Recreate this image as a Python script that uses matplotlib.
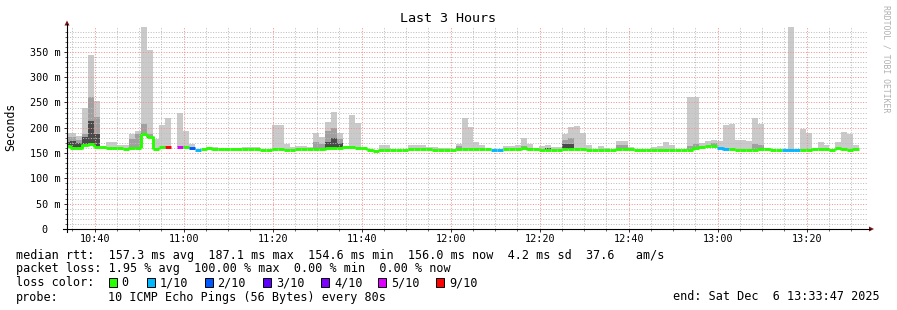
import numpy as np
import matplotlib
matplotlib.use("Agg")
import matplotlib.pyplot as plt
import matplotlib.dates as mdates
from matplotlib.ticker import MultipleLocator, FuncFormatter, NullFormatter
from matplotlib.patches import Polygon, Rectangle
from matplotlib.lines import Line2D
from datetime import datetime, timedelta

nan = np.nan

# ---------------- data (one entry per 80 s step) ----------------
start_time = datetime(2025, 12, 6, 10, 33, 47)
end_time = datetime(2025, 12, 6, 13, 33, 47)
step_seconds = 80

median_ms = [165, 161, 160, 166, 167, 163, 162, 161, 160, 160,
             159, 161, 161, 187, 182, 159, 162, 163, nan, 163,
             163, 160, 156, 158, 160, 158, 158, 159, 159, 158,
             158, 158, 158, 157, 157, 158, 158, 157, 157, 158,
             158, 158, 158, 158, 160, 161, 161, 163, 162, 161,
             160, 157, 155, 157, 157, 157, 157, 157, 158, 158,
             158, 158, 157, 157, 157, 157, 158, 158, 158, 158,
             158, 158, 157, 157, 158, 158, 158, 160, 158, 158,
             157, 157, 157, 157, 158, 158, 158, 158, 157, 157,
             157, 157, 157, 159, 159, 158, 157, 156, 156, 156,
             156, 157, 157, 157, 157, 157, 161, 163, 164, 164,
             161, 158, 158, 157, 157, 157, 157, 159, 159, 157,
             157, 157, 155.5, 157, 157, 157, 159, 159, 158, 157,
             160, 158, 157, 159, nan]

loss_count = [0, 0, 0, 0, 0, 0, 0, 0, 0, 0,
              0, 0, 0, 0, 0, 0, 0, 9, 10, 5,
              0, 2, 1, 0, 0, 0, 0, 0, 0, 0,
              0, 0, 0, 0, 0, 0, 0, 0, 0, 0,
              0, 0, 0, 0, 0, 0, 0, 0, 0, 0,
              0, 0, 0, 0, 0, 0, 0, 0, 0, 0,
              0, 0, 0, 0, 0, 0, 0, 0, 0, 0,
              0, 0, 1, 1, 0, 0, 0, 0, 0, 0,
              0, 0, 0, 0, 0, 0, 0, 0, 0, 0,
              0, 0, 0, 0, 0, 0, 0, 0, 0, 0,
              0, 0, 0, 0, 0, 0, 0, 0, 0, 0,
              1, 1, 0, 0, 0, 0, 0, 0, 0, 0,
              0, 1, 1, 1, 0, 0, 0, 0, 0, 0,
              0, 0, 0, 0, 10]

smoke_max_ms = [190, 190, 184, 240, 344, 252, nan, 172, 172, 166,
                166, 188, 194, 399, 354, 178, 205, 220, nan, 230,
                194, 168, nan, nan, 163, 163, nan, nan, nan, nan,
                163, 163, 163, nan, nan, 205, 205, 167, 163, 165,
                165, 163, 190, 182, 212, 232, 190, 165, 225, 210,
                nan, nan, nan, 166, 166, 158, nan, nan, 166, 166,
                166, 163, 163, 161, 161, nan, 168, 220, 202, 171,
                166, nan, nan, nan, 164, 164, 166, 180, 168, nan,
                164, 166, 163, 163, 188, 201, 203, 190, 166, nan,
                164, 161, nan, 174, 174, 163, nan, nan, 159, 163,
                165, 171, 166, nan, nan, 260, 261, 169, 174, 176,
                173, 206, 207, 176, 176, 174, 220, 207, 161, 158,
                nan, nan, 399, nan, 198, 190, nan, 171, 166, 158,
                171, 191, 188, 166, nan]

smoke_mid_ms = [182, 182, 176, 188, 261, 222, nan, nan, nan, nan,
                nan, 178, 188, 207, 188, nan, nan, nan, nan, nan,
                nan, nan, nan, nan, nan, nan, nan, nan, nan, nan,
                nan, nan, nan, nan, nan, nan, nan, nan, nan, nan,
                nan, nan, 171, 168, 194, 200, 178, nan, nan, nan,
                nan, nan, nan, nan, nan, nan, nan, nan, nan, nan,
                nan, nan, nan, nan, nan, nan, 165, nan, nan, nan,
                nan, nan, nan, nan, nan, nan, nan, 164, nan, nan,
                nan, nan, nan, nan, 176, 179, nan, nan, nan, nan,
                nan, nan, nan, 166, 166, nan, nan, nan, nan, nan,
                nan, nan, nan, nan, nan, 164, 168, nan, nan, 169,
                nan, nan, nan, nan, nan, nan, 168, 166, nan, nan,
                nan, nan, nan, nan, nan, nan, nan, nan, nan, nan,
                nan, nan, nan, nan, nan]

smoke_dark_ms = [172, 174, 170, 182, 214, 188, nan, nan, nan, nan,
                 nan, nan, nan, 190, 180, nan, nan, nan, nan, nan,
                 nan, nan, nan, nan, nan, nan, nan, nan, nan, nan,
                 nan, nan, nan, nan, nan, nan, nan, nan, nan, nan,
                 nan, nan, nan, nan, 171, 180, 170, nan, nan, nan,
                 nan, nan, nan, nan, nan, nan, nan, nan, nan, nan,
                 nan, nan, nan, nan, nan, nan, nan, nan, nan, nan,
                 nan, nan, nan, nan, nan, nan, nan, nan, 161, nan,
                 nan, 160, nan, nan, 167, 167, nan, nan, nan, nan,
                 nan, nan, nan, nan, nan, nan, nan, nan, nan, nan,
                 nan, nan, nan, nan, nan, nan, nan, nan, nan, nan,
                 nan, nan, nan, nan, nan, nan, nan, nan, nan, nan,
                 nan, nan, nan, nan, nan, nan, nan, nan, nan, nan,
                 nan, nan, nan, nan, nan]

loss_levels = [0, 1, 2, 3, 4, 5, 9]
loss_labels = ["0", "1/10", "2/10", "3/10", "4/10", "5/10", "9/10"]
loss_colors = ["#26ff00", "#00b8ff", "#0059ff", "#5e00ff", "#7e00ff", "#dd00ff", "#ff0000"]

legend_rows = [
    "median rtt:  157.3 ms avg  187.1 ms max  154.6 ms min  156.0 ms now  4.2 ms sd  37.6   am/s",
    "packet loss: 1.95 % avg  100.00 % max  0.00 % min  0.00 % now",
]
probe_text = "10 ICMP Echo Pings (56 Bytes) every 80s"
end_text = "end: Sat Dec  6 13:33:47 2025"
title = "Last 3 Hours"

# ---------------- figure ----------------
W, H = 897, 310
plt.rcParams['font.family'] = ['DejaVu Sans Mono']
fig = plt.figure(figsize=(W / 100, H / 100), dpi=100)
fig.patch.set_facecolor("white")

def fx(x):
    return x / W

def fy(y):
    return 1 - y / H

ax_l, ax_r, ax_t, ax_b = 67, 868, 27.1, 229
ax = fig.add_axes([fx(ax_l), fy(ax_b), (ax_r - ax_l) / W, (ax_b - ax_t) / H])
ax.set_facecolor("white")

med = np.array(median_ms, float)
loss = np.array(loss_count)
t = mdates.date2num([start_time + timedelta(seconds=step_seconds * j) for j in range(len(med))])
width = step_seconds / 86400.0

def smoke(vals, color):
    v = np.array(vals, float)
    m = np.isfinite(v) & np.isfinite(med)
    ax.bar(t[m], v[m] - med[m], bottom=med[m], width=width, color=color,
           linewidth=0, align="center", zorder=1)

smoke(smoke_max_ms, "#cacaca")
smoke(smoke_mid_ms, "#a0a0a0")
smoke(smoke_dark_ms, "#4a4a4a")

color_of = dict(zip(loss_levels, loss_colors))
lw_med = 2.1
for j in range(len(med)):
    if not np.isfinite(med[j]) or loss[j] not in color_of:
        continue
    c = color_of[loss[j]]
    ax.hlines(med[j], t[j] - width / 2, t[j] + width / 2, color=c, lw=lw_med, zorder=4)
    if j > 0 and np.isfinite(med[j - 1]) and loss[j - 1] == loss[j] and med[j - 1] != med[j]:
        ax.vlines(t[j] - width / 2, min(med[j], med[j - 1]) - 1, max(med[j], med[j - 1]) + 1,
                  color=c, lw=lw_med, zorder=4)

ax.set_xlim(mdates.date2num(start_time), mdates.date2num(end_time))
ax.set_ylim(0, 399)

# grid
ax.xaxis.set_major_locator(mdates.MinuteLocator(byminute=[0, 20, 40]))
ax.xaxis.set_minor_locator(mdates.MinuteLocator(byminute=range(0, 60, 5)))
ax.xaxis.set_major_formatter(mdates.DateFormatter("%H:%M"))
ax.yaxis.set_major_locator(MultipleLocator(50))
ax.yaxis.set_minor_locator(MultipleLocator(10))
ax.yaxis.set_major_formatter(FuncFormatter(lambda v, p: f"{int(round(v))} m" if v else "0  "))
ax.xaxis.set_minor_formatter(NullFormatter())
ax.yaxis.set_minor_formatter(NullFormatter())

ax.set_axisbelow(False)
ax.grid(which="minor", color="#bdbdbd", linestyle=(0, (1, 1.6)), linewidth=0.72, zorder=3)
ax.grid(which="major", color="#f09090", linestyle=(0, (1, 1.6)), linewidth=0.72, zorder=3)

for s in ax.spines.values():
    s.set_visible(False)

ax.tick_params(axis="both", which="major", length=2.2, width=0.72, color="#333333",
               labelsize=7.3, direction="out")
ax.tick_params(axis="both", which="minor", length=1.5, width=0.72, color="#666666", direction="out")
ax.tick_params(axis="y", which="major", pad=2.6)
ax.tick_params(axis="x", which="major", pad=1.2)

# axes lines and arrows
fig.add_artist(Line2D([fx(67), fx(67)], [fy(232), fy(24)], color="black", lw=0.8))
fig.add_artist(Line2D([fx(63), fx(870)], [fy(229), fy(229)], color="black", lw=0.8))
arrow_c = "#7a1515"
fig.add_artist(Polygon([(fx(64.5), fy(25.5)), (fx(69.5), fy(25.5)), (fx(67), fy(20.5))],
                       closed=True, color=arrow_c, lw=0))
fig.add_artist(Polygon([(fx(869), fy(226.5)), (fx(869), fy(231.5)), (fx(874), fy(229))],
                       closed=True, color=arrow_c, lw=0))

# texts
fig.text(fx(448), fy(19), title, ha="center", va="center", fontsize=9.6, color="black")
fig.text(fx(11), fy(127), "Seconds", rotation=90, ha="center", va="center", fontsize=8.3)
fig.text(fx(886), fy(59), "RRDTOOL / TOBI OETIKER", rotation=270, ha="center", va="center",
         fontsize=5.9, color="#b0b0b0")

leg_fs = 8.5
fig.text(fx(16), fy(255), legend_rows[0], ha="left", va="center", fontsize=leg_fs)
fig.text(fx(16), fy(268.5), legend_rows[1], ha="left", va="center", fontsize=leg_fs)
fig.text(fx(16), fy(282.5), "loss color:", ha="left", va="center", fontsize=leg_fs)
box_x = [108.6, 146.9, 204.6, 262.9, 321, 378, 436]
for bx, lab, col in zip(box_x, loss_labels, loss_colors):
    fig.add_artist(Rectangle((fx(bx), fy(286.5)), 8 / W, 9 / H, facecolor=col,
                             edgecolor="black", lw=0.7))
    fig.text(fx(bx + 13), fy(282.5), lab, ha="left", va="center", fontsize=leg_fs)
fig.text(fx(16), fy(297), "probe:", ha="left", va="center", fontsize=leg_fs)
fig.text(fx(108), fy(297), probe_text, ha="left", va="center", fontsize=leg_fs)
fig.text(fx(880), fy(297), end_text, ha="right", va="center", fontsize=leg_fs)

fig.savefig("out.png", dpi=100, facecolor="white")
